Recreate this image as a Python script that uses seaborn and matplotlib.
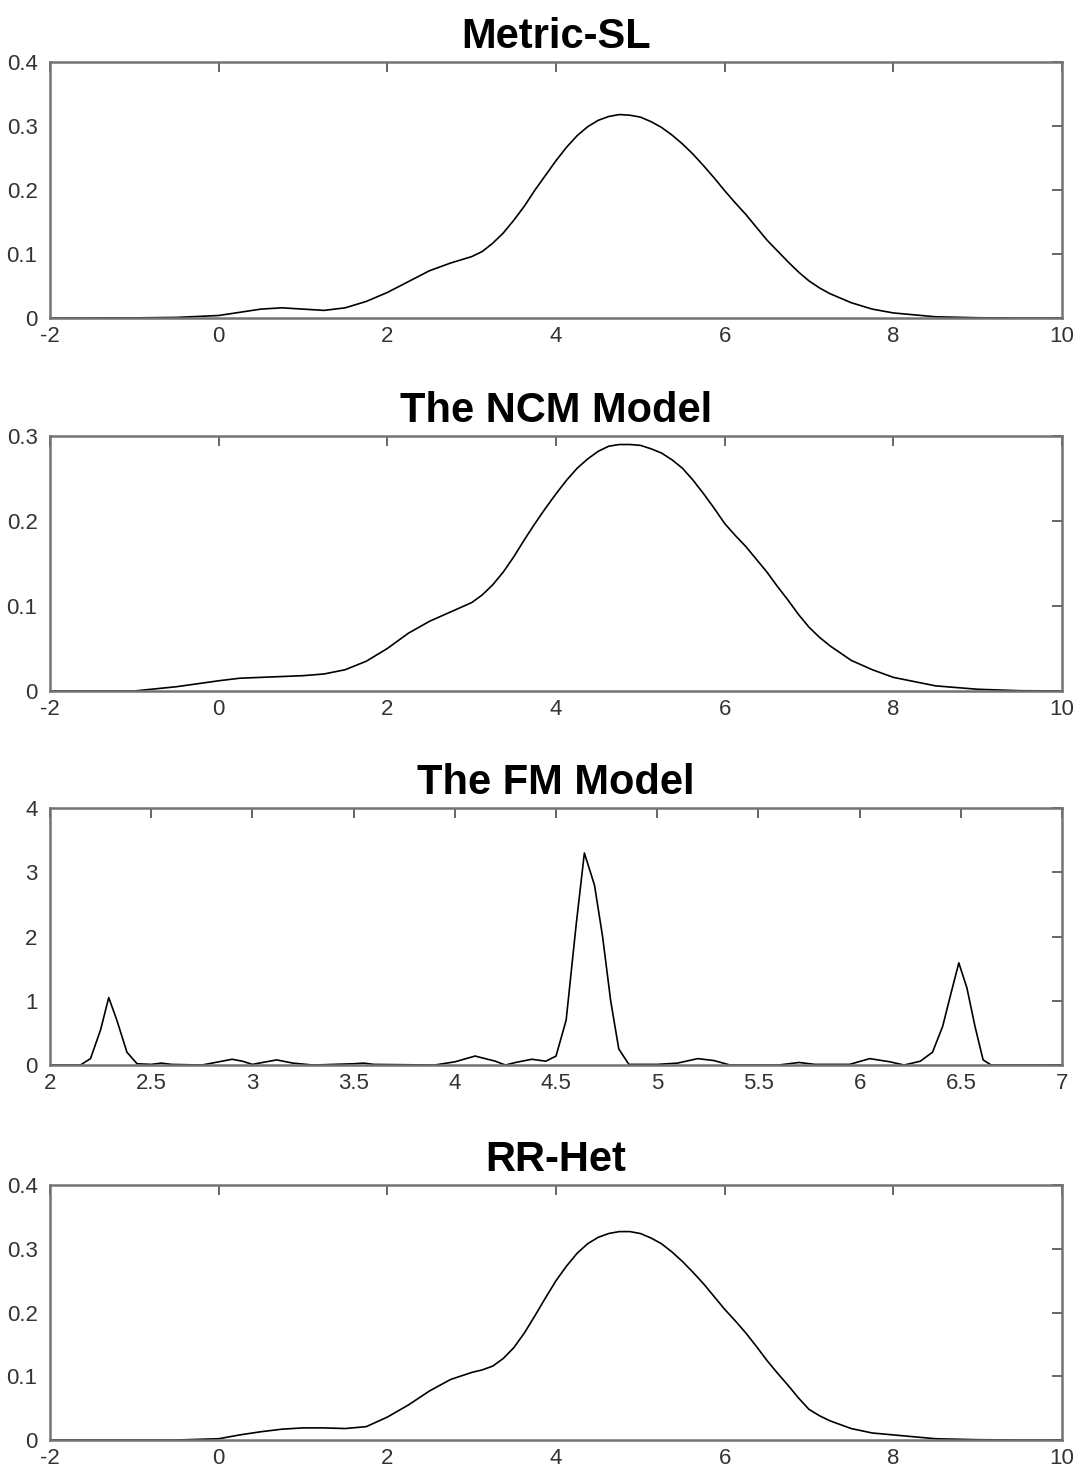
import numpy as np
import pandas as pd
import seaborn as sns
from matplotlib import pyplot as plt

# density curves (finer steps where the curves bend)
grid_x = [-2, -1, -0.5, 0, 0.25, 0.5, 0.75, 1.0, 1.25, 1.5, 1.75, 2.0, 2.25, 2.5, 2.75,
          3.0, 3.125, 3.25, 3.375, 3.5, 3.625, 3.75, 3.875, 4.0, 4.125, 4.25, 4.375,
          4.5, 4.625, 4.75, 4.875, 5.0, 5.125, 5.25, 5.375, 5.5, 5.625, 5.75, 5.875,
          6.0, 6.125, 6.25, 6.375, 6.5, 6.625, 6.75, 6.875, 7.0, 7.125, 7.25,
          7.5, 7.75, 8.0, 8.5, 9.0, 9.5, 10]

metric_sl = [0, 0.0003, 0.001, 0.004, 0.009, 0.014, 0.016, 0.014, 0.012, 0.016, 0.026,
             0.040, 0.057, 0.074, 0.086,
             0.096, 0.104, 0.117, 0.133, 0.153, 0.175, 0.200, 0.223, 0.246, 0.267,
             0.285, 0.299, 0.309, 0.315, 0.318, 0.317, 0.314, 0.307, 0.298, 0.286,
             0.272, 0.256, 0.238, 0.219, 0.199, 0.180, 0.162, 0.142, 0.122, 0.105,
             0.088, 0.072, 0.058, 0.047, 0.038,
             0.024, 0.014, 0.008, 0.002, 0.0005, 0, 0]

ncm = [0, 0, 0.005, 0.012, 0.015, 0.016, 0.017, 0.018, 0.020, 0.025, 0.035, 0.050, 0.068,
       0.082, 0.093,
       0.104, 0.113, 0.125, 0.140, 0.158, 0.178, 0.197, 0.215, 0.232, 0.248,
       0.262, 0.273, 0.282, 0.288, 0.290, 0.290, 0.289, 0.285, 0.280, 0.272,
       0.262, 0.248, 0.232, 0.215, 0.197, 0.183, 0.170, 0.155, 0.140, 0.123,
       0.107, 0.090, 0.075, 0.063, 0.053,
       0.036, 0.025, 0.016, 0.006, 0.002, 0.0003, 0]

rr_het = [0, 0, 0, 0.002, 0.008, 0.013, 0.017, 0.019, 0.019, 0.018, 0.021, 0.036, 0.055,
          0.077, 0.095,
          0.106, 0.110, 0.116, 0.128, 0.145, 0.168, 0.195, 0.223, 0.250, 0.273,
          0.293, 0.308, 0.318, 0.324, 0.327, 0.327, 0.324, 0.317, 0.308, 0.295,
          0.280, 0.263, 0.245, 0.225, 0.205, 0.187, 0.168, 0.147, 0.125, 0.105,
          0.086, 0.066, 0.048, 0.038, 0.030,
          0.018, 0.011, 0.008, 0.002, 0.0005, 0, 0]

fm_x = [2.0, 2.15, 2.2, 2.25, 2.29, 2.33, 2.38, 2.43, 2.5, 2.55, 2.6, 2.75, 2.85, 2.9, 2.95,
        3.0, 3.05, 3.12, 3.2, 3.3, 3.5, 3.55, 3.6, 3.9, 4.0, 4.1, 4.2, 4.25, 4.3, 4.38, 4.45,
        4.5, 4.55, 4.6, 4.64, 4.69, 4.73, 4.77, 4.81, 4.86, 5.0, 5.1, 5.2, 5.28, 5.36, 5.6,
        5.7, 5.78, 5.95, 6.05, 6.15, 6.22, 6.3, 6.36, 6.41, 6.45, 6.49, 6.53, 6.57, 6.61,
        6.65, 7.0]
fm_y = [0, 0, 0.1, 0.55, 1.05, 0.7, 0.2, 0.02, 0.01, 0.03, 0.01, 0, 0.06, 0.09, 0.06,
        0.01, 0.04, 0.08, 0.03, 0, 0.02, 0.03, 0.01, 0, 0.05, 0.14, 0.06, 0, 0.04, 0.09, 0.06,
        0.14, 0.7, 2.2, 3.3, 2.8, 2.0, 1.0, 0.25, 0.01, 0.01, 0.03, 0.1, 0.07, 0, 0,
        0.04, 0.01, 0.01, 0.1, 0.05, 0, 0.06, 0.2, 0.6, 1.1, 1.59, 1.2, 0.6, 0.08,
        0, 0]

titles = ["Metric-SL", "The NCM Model", "The FM Model", "RR-Het"]

wide_xticks = [-2, 0, 2, 4, 6, 8, 10]
fm_xticks = [2, 2.5, 3, 3.5, 4, 4.5, 5, 5.5, 6, 6.5, 7]
yticks_04 = [0, 0.1, 0.2, 0.3, 0.4]
yticks_03 = [0, 0.1, 0.2, 0.3]
fm_yticks = [0, 1, 2, 3, 4]


def fmt(v):
    return "%g" % v


sns.set_style("white")
plt.rcParams['font.family'] = ['Liberation Sans', 'DejaVu Sans']

fig = plt.figure(figsize=(10.78, 14.78), dpi=100)
boxes = [[0.0464, 0.7848, 0.9388, 0.1732],
         [0.0464, 0.5325, 0.9388, 0.1725],
         [0.0464, 0.2794, 0.9388, 0.1739],
         [0.0464, 0.0257, 0.9388, 0.1725]]

panels = [
    (grid_x, metric_sl, (-2, 10), (0, 0.4), wide_xticks, yticks_04),
    (grid_x, ncm, (-2, 10), (0, 0.3), wide_xticks, yticks_03),
    (fm_x, fm_y, (2, 7), (0, 4), fm_xticks, fm_yticks),
    (grid_x, rr_het, (-2, 10), (0, 0.4), wide_xticks, yticks_04),
]

for box, title, (xs, ys, xl, yl, xt, yt) in zip(boxes, titles, panels):
    ax = fig.add_axes(box)
    df = pd.DataFrame({"x": xs, "y": ys})
    sns.lineplot(data=df, x="x", y="y", ax=ax, color="black", linewidth=1.2)
    ax.set_xlim(*xl)
    ax.set_ylim(*yl)
    ax.set_xticks(xt)
    ax.set_xticklabels([fmt(v) for v in xt])
    ax.set_yticks(yt)
    ax.set_yticklabels([fmt(v) for v in yt])
    ax.set_xlabel("")
    ax.set_ylabel("")
    ax.set_title(title, fontsize=30, fontweight="bold", pad=10, color="black")
    ax.tick_params(direction="in", top=True, right=True, length=7, width=1.2,
                   color="0.3", labelsize=16, labelcolor="#333333")
    ax.tick_params(axis="x", pad=6)
    ax.tick_params(axis="y", pad=9)
    for sp in ax.spines.values():
        sp.set_color("0.45")
        sp.set_linewidth(1.8)

plt.savefig("out.png", dpi=100)
